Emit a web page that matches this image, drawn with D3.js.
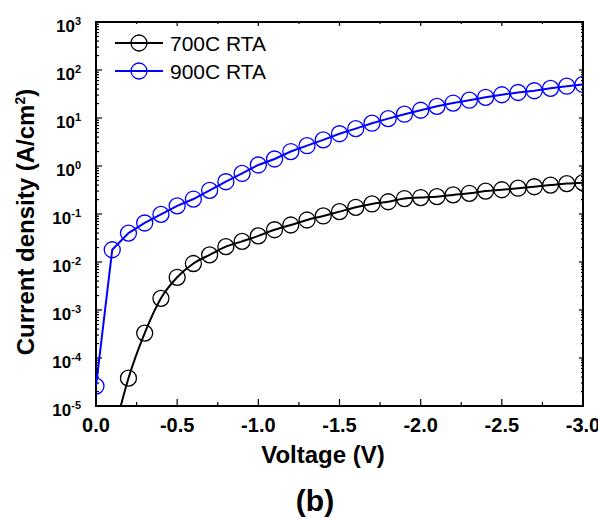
<!DOCTYPE html>
<meta charset="utf-8">
<head>
    <title>J-V curves, 700C vs 900C RTA</title>
    <script src="https://d3js.org/d3.v7.min.js"></script>
    <style>
        body { margin: 0; background: #fff; }
        text { font-family: "Liberation Sans", Arial, sans-serif; }
    </style>
</head>

<body>
    <div id="svg-container"></div>
</body>

<script>

const width = 598;
const height = 519;
const plot = { left: 96, right: 583, top: 22, bottom: 406 };

// voltage sweep (V), one marker every 0.1 V
const voltage = [0.0, -0.1, -0.2, -0.3, -0.4, -0.5, -0.6, -0.7, -0.8, -0.9, -1.0,
                 -1.1, -1.2, -1.3, -1.4, -1.5, -1.6, -1.7, -1.8, -1.9, -2.0,
                 -2.1, -2.2, -2.3, -2.4, -2.5, -2.6, -2.7, -2.8, -2.9, -3.0];

// current density (A/cm2); 700C is below the axis at 0 and -0.1 V
const j700 = [null, 2.0e-6, 3.8e-5, 3.3e-4, 1.75e-3, 4.8e-3, 9.3e-3, 1.41e-2, 2.09e-2, 2.69e-2, 3.5e-2,
              4.7e-2, 5.9e-2, 7.5e-2, 9.1e-2, 0.112, 0.138, 0.162, 0.18, 0.21, 0.22,
              0.23, 0.25, 0.27, 0.30, 0.32, 0.345, 0.37, 0.40, 0.43, 0.45];
const j900 = [2.6e-5, 1.8e-2, 4.0e-2, 6.5e-2, 9.8e-2, 0.148, 0.205, 0.31, 0.47, 0.70, 1.05,
              1.4, 2.0, 2.65, 3.5, 4.7, 6.0, 7.8, 9.7, 12.0, 14.5,
              17.5, 20.5, 23.5, 27, 30.5, 34, 37, 41.5, 46, 50];

const seriesNames = ["700C RTA", "900C RTA"];
const seriesColors = ["#000000", "#0000ff"];

const yExponents = [3, 2, 1, 0, -1, -2, -3, -4, -5];
const xTicks = [0, -0.5, -1.0, -1.5, -2.0, -2.5, -3.0];

const x = d3.scaleLinear().domain([0, -3]).range([plot.left, plot.right]);
const y = d3.scaleLog().domain([1e-5, 1e3]).range([plot.bottom, plot.top]);

const svg = d3.select("#svg-container")
              .append("svg")
                .attr("width", width)
                .attr("height", height);

svg.append("clipPath")
    .attr("id", "plot-clip")
  .append("rect")
    .attr("x", plot.left)
    .attr("y", plot.top)
    .attr("width", plot.right - plot.left)
    .attr("height", plot.bottom - plot.top);

// minor ticks
const minorY = [];
for (let e = -5; e < 3; e++) {
    for (let k = 2; k <= 9; k++) minorY.push(k * Math.pow(10, e));
}
const minorX = d3.range(0, 13).map(function(i) { return -0.25 * i; })
                 .filter(function(v) { return Math.abs(v * 2 - Math.round(v * 2)) > 1e-6; });

const ticks = svg.append("g").attr("stroke", "#000").attr("stroke-width", 1.2);

function tickLines(values, len, side, scale) {
    ticks.selectAll(null)
        .data(values).enter()
        .append("line")
            .attr("x1", function(d) { return side === "left" ? plot.left : side === "right" ? plot.right : scale(d); })
            .attr("x2", function(d) { return side === "left" ? plot.left + len : side === "right" ? plot.right - len : scale(d); })
            .attr("y1", function(d) { return side === "bottom" ? plot.bottom : side === "top" ? plot.top : scale(d); })
            .attr("y2", function(d) { return side === "bottom" ? plot.bottom - len : side === "top" ? plot.top + len : scale(d); });
}

const majorY = yExponents.map(function(e) { return Math.pow(10, e); });
tickLines(majorY, 6, "left", y);
tickLines(minorY, 3, "left", y);
tickLines(majorY, 4, "right", y);
tickLines(minorY, 2, "right", y);
tickLines(xTicks, 7, "bottom", x);
tickLines(minorX, 4, "bottom", x);
tickLines(xTicks, 4, "top", x);
tickLines(minorX, 2, "top", x);

// frame
svg.append("rect")
    .attr("x", plot.left)
    .attr("y", plot.top)
    .attr("width", plot.right - plot.left)
    .attr("height", plot.bottom - plot.top)
    .attr("fill", "none")
    .attr("stroke", "#000")
    .attr("stroke-width", 2);

// y tick labels 10^n
const yLabels = svg.append("g")
    .selectAll("text")
    .data(yExponents).enter()
    .append("text")
        .attr("x", 81)
        .attr("y", function(e) { return y(Math.pow(10, e)) + 9.5; })
        .attr("text-anchor", "end")
        .attr("font-weight", "bold")
        .attr("font-size", 17);
yLabels.append("tspan").text("10");
yLabels.append("tspan")
    .attr("dy", -7)
    .attr("font-size", 11)
    .text(function(e) { return String(e); });

// x tick labels (the last one runs off the right edge, as in the original)
svg.append("g")
    .selectAll("text")
    .data(xTicks).enter()
    .append("text")
        .attr("x", function(d) { return x(d); })
        .attr("y", 432)
        .attr("text-anchor", "middle")
        .attr("font-weight", "bold")
        .attr("font-size", 20)
        .text(function(d) { return d.toFixed(1); });

// axis titles
svg.append("text")
    .attr("x", 323)
    .attr("y", 463)
    .attr("text-anchor", "middle")
    .attr("font-weight", "bold")
    .attr("font-size", 24)
    .text("Voltage (V)");

const yTitle = svg.append("text")
    .attr("transform", "translate(34,222) rotate(-90)")
    .attr("text-anchor", "middle")
    .attr("font-weight", "bold")
    .attr("font-size", 24);
yTitle.append("tspan").text("Current density (A/cm");
yTitle.append("tspan").attr("dy", -9).attr("font-size", 14).text("2");
yTitle.append("tspan").attr("dy", 9).text(")");

svg.append("text")
    .attr("x", 315)
    .attr("y", 511)
    .attr("text-anchor", "middle")
    .attr("font-weight", "bold")
    .attr("font-size", 30)
    .text("(b)");

// data
const series = [j700, j900].map(function(vals, i) {
    return {
        name: seriesNames[i],
        color: seriesColors[i],
        curve: i === 0 ? d3.curveMonotoneX : d3.curveLinear,
        points: voltage.map(function(v, k) { return { v: v, j: vals[k] }; })
                       .filter(function(p) { return p.j !== null; })
    };
});

const plotArea = svg.append("g").attr("clip-path", "url(#plot-clip)");

series.forEach(function(s) {
    const line = d3.line()
        .x(function(p) { return x(p.v); })
        .y(function(p) { return y(p.j); })
        .curve(s.curve);

    plotArea.append("path")
        .datum(s.points)
        .attr("d", line)
        .attr("fill", "none")
        .attr("stroke", s.color)
        .attr("stroke-width", 2);

    plotArea.selectAll(null)
        .data(s.points.filter(function(p) { return p.j >= 1e-5; })).enter()
        .append("circle")
            .attr("cx", function(p) { return x(p.v); })
            .attr("cy", function(p) { return y(p.j); })
            .attr("r", 8)
            .attr("fill", "none")
            .attr("stroke", s.color)
            .attr("stroke-width", 1.3);
});

// legend
const legend = svg.append("g")
    .selectAll("g")
    .data(series).enter()
    .append("g")
        .attr("transform", function(d, i) { return `translate(0,${43 + i * 28})`; });
legend.append("line")
    .attr("x1", 115).attr("x2", 163)
    .attr("stroke", function(d) { return d.color; })
    .attr("stroke-width", 2);
legend.append("circle")
    .attr("cx", 139)
    .attr("r", 8)
    .attr("fill", "none")
    .attr("stroke", function(d) { return d.color; })
    .attr("stroke-width", 1.3);
legend.append("text")
    .attr("x", 170)
    .attr("y", 7.5)
    .attr("font-size", 21)
    .text(function(d) { return d.name; });

</script>
